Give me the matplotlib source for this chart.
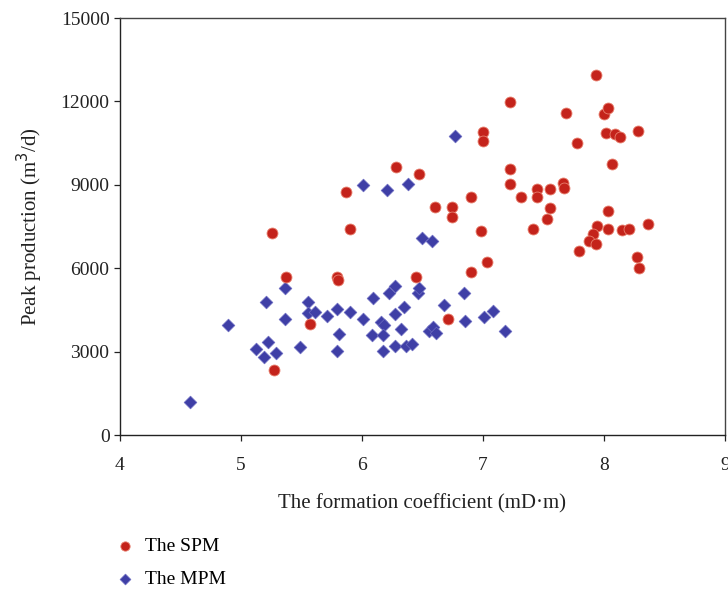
import matplotlib.pyplot as plt
import numpy as np

plt.rcParams['font.family'] = ['Liberation Serif', 'DejaVu Serif']

# The SPM
spm_x = [5.26, 5.27, 5.37, 5.57, 5.79, 5.80, 5.87, 5.90, 6.28, 6.47,
         6.45, 6.60, 6.74, 6.74, 6.71, 6.90, 6.90, 6.98, 7.03, 7.00,
         7.00, 7.22, 7.22, 7.22, 7.31, 7.41, 7.45, 7.45, 7.55, 7.53,
         7.55, 7.69, 7.66, 7.67, 7.78, 7.79, 7.93, 8.00, 8.03, 8.02,
         8.09, 8.13, 8.07, 8.28, 8.03, 7.94, 7.91, 7.88, 7.93, 8.03,
         8.15, 8.21, 8.36, 8.27, 8.29]
spm_y = [7270, 2340, 5680, 3990, 5680, 5580, 8740, 7410, 9640, 9390,
         5680, 8200, 8200, 7840, 4170, 8560, 5860, 7340, 6220, 10900,
         10580, 11980, 9570, 9030, 8560, 7410, 8850, 8560, 8850, 7770,
         8170, 11580, 9070, 8890, 10500, 6620, 12950, 11550, 11760, 10860,
         10830, 10720, 9750, 10940, 8060, 7520, 7230, 6980, 6870, 7410,
         7370, 7410, 7590, 6400, 6010]

# The MPM
mpm_x = [4.58, 4.89, 5.12, 5.19, 5.21, 5.22, 5.29, 5.36, 5.36, 5.49,
         5.55, 5.55, 5.61, 5.71, 5.79, 5.79, 5.81, 5.90, 6.01, 6.01,
         6.09, 6.08, 6.16, 6.18, 6.17, 6.17, 6.21, 6.22, 6.27, 6.27,
         6.27, 6.32, 6.35, 6.36, 6.41, 6.38, 6.46, 6.47, 6.50, 6.58,
         6.55, 6.59, 6.61, 6.68, 6.77, 6.84, 6.85, 7.01, 7.08, 7.18]
mpm_y = [1190, 3960, 3090, 2810, 4780, 3350, 2950, 5290, 4170, 3170,
         4780, 4390, 4420, 4280, 4530, 3020, 3630, 4420, 4170, 8990,
         4930, 3600, 4070, 3960, 3600, 3020, 8810, 5110, 5360, 4350,
         3200, 3810, 4600, 3200, 3270, 9030, 5110, 5290, 7090, 6980,
         3740, 3890, 3670, 4680, 10760, 5110, 4100, 4250, 4460, 3740]

fig = plt.figure(figsize=(7.28, 5.95), dpi=100)
ax = fig.add_axes([0.1648, 0.2689, 0.8311, 0.7008])

spm = ax.scatter(spm_x, spm_y, s=62, marker='o', facecolor='#c4231b',
                 edgecolor='#e8806f', linewidth=0.6, zorder=3, label='The SPM')
mpm = ax.scatter(mpm_x, mpm_y, s=42, marker='D', facecolor='#3f3fa6',
                 edgecolor='#6a6ac0', linewidth=0.5, zorder=2, label='The MPM')

ax.set_xlim(4, 9)
ax.set_ylim(0, 15000)
ax.set_xticks(np.arange(4, 10, 1))
ax.set_yticks(np.arange(0, 15001, 3000))
ax.tick_params(direction='out', length=4, width=0.9, labelsize=14, colors='#222222')
ax.tick_params(axis='x', pad=12)
for side in ['left', 'bottom']:
    ax.spines[side].set_color('#222222')
    ax.spines[side].set_linewidth(1.0)
for side in ['top', 'right']:
    ax.spines[side].set_color('#444444')
    ax.spines[side].set_linewidth(1.0)

ax.set_xlabel('The formation coefficient (mD·m)', fontsize=15, labelpad=14, color='#222222')
ax.set_ylabel('Peak production (m$^{3}$/d)', fontsize=15, labelpad=11, color='#222222')

fig.legend(handles=[spm, mpm], loc='upper left', bbox_to_anchor=(0.158, 0.096),
           frameon=False, fontsize=14, handlelength=1.0, handletextpad=0.55,
           labelspacing=0.75, markerscale=0.85, borderaxespad=0, borderpad=0)

fig.savefig('out.png', dpi=100)
